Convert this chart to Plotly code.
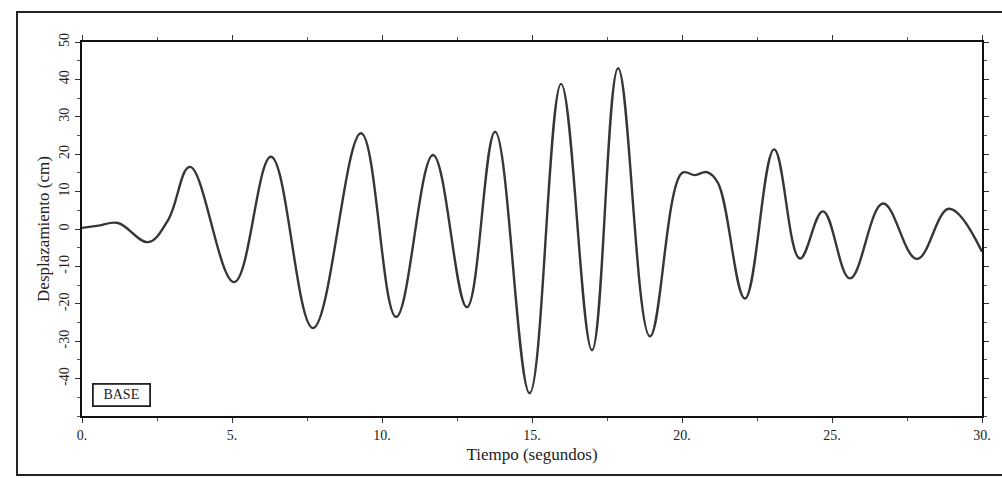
import plotly.graph_objects as go

# Displacement record at the base: time (s) and displacement (cm),
# taken at the turning points of the trace plus a few shape points
tiempo = [0.0, 0.55, 1.2, 2.2, 2.87, 3.6, 5.07, 6.3, 7.7, 9.3,
          10.47, 11.7, 12.83, 13.77, 14.92, 15.97, 17.0, 17.87, 18.93, 20.0,
          20.43, 20.83, 21.2, 22.1, 23.07, 23.93, 24.7, 25.6, 26.7, 27.83,
          28.9, 30.0]
desplazamiento = [0.3, 0.9, 1.6, -3.5, 2.4, 16.6, -14.2, 19.3, -26.5, 25.6,
                  -23.5, 19.8, -20.9, 26.0, -43.9, 38.8, -32.4, 43.0, -28.7, 15.0,
                  14.4, 15.2, 12.3, -18.6, 21.3, -7.9, 4.7, -13.2, 6.8, -8.0,
                  5.4, -6.1]

x_ticks = [0, 5, 10, 15, 20, 25, 30]
x_labels = ["0.", "5.", "10.", "15.", "20.", "25.", "30."]
y_ticks = [-40, -30, -20, -10, 0, 10, 20, 30, 40, 50]
y_labels = ["-40", "-30", "-20", "-10", "0", "10", "20", "30", "40", "50"]

SERIF = "Liberation Serif, Times New Roman, serif"

fig = go.Figure()
fig.add_trace(go.Scatter(
    x=tiempo, y=desplazamiento, mode="lines",
    line=dict(color="#363636", width=2.4, shape="spline", smoothing=1.1),
    showlegend=False, hoverinfo="skip",
))

axis_common = dict(
    showgrid=False, zeroline=False, showline=True, linecolor="#111",
    linewidth=2, mirror="ticks", ticks="outside", ticklen=5, tickwidth=1.3,
    tickcolor="#333", tickfont=dict(family=SERIF, size=14, color="#222"),
)

fig.update_xaxes(
    range=[0, 30], tickvals=x_ticks, ticktext=x_labels,
    minor=dict(dtick=2.5, ticks="outside", ticklen=3, tickwidth=1.3, tickcolor="#555"),
    title=dict(text="Tiempo (segundos)", font=dict(family=SERIF, size=17, color="#222"),
               standoff=6),
    **axis_common,
)
fig.update_yaxes(
    range=[-50, 50], tickvals=y_ticks, ticktext=y_labels, tickangle=-90,
    minor=dict(dtick=5, ticks="outside", ticklen=3, tickwidth=1.3, tickcolor="#555"),
    title=dict(text="Desplazamiento (cm)", font=dict(family=SERIF, size=17, color="#222"),
               standoff=3),
    **axis_common,
)

# Label box in the lower-left corner
fig.add_annotation(
    x=1.32, y=-44.5, xref="x", yref="y", text="BASE", showarrow=False,
    font=dict(family=SERIF, size=14, color="#222"),
    width=52, height=17, borderpad=1.5,
    bordercolor="#222", borderwidth=1.8, bgcolor="white",
)

# Outer frame around the whole figure
fig.add_shape(
    type="rect", xref="paper", yref="paper",
    x0=-0.0722, x1=1.03, y0=-0.158, y1=1.08,
    line=dict(color="#222", width=2), layer="below",
)

fig.update_layout(
    width=1002, height=478,
    margin=dict(l=82, r=20, t=42, b=62),
    paper_bgcolor="white", plot_bgcolor="white",
    font=dict(family=SERIF),
)

fig.write_html("out.html")
